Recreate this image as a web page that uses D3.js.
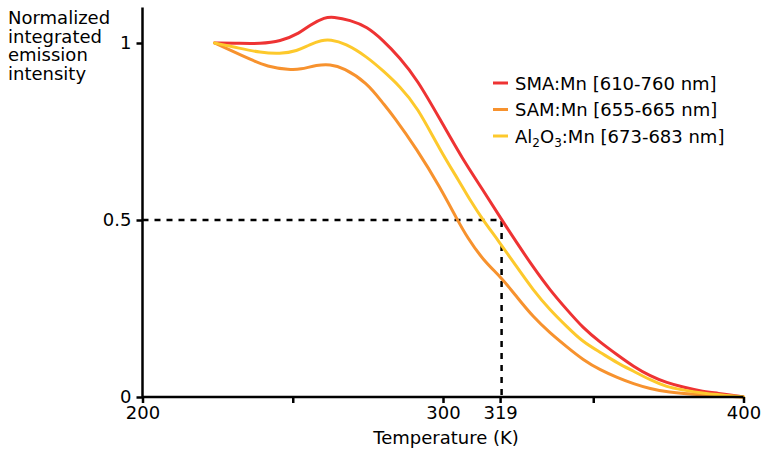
<!DOCTYPE html>
<html>
<head>
<meta charset="utf-8">
<script src="https://cdn.jsdelivr.net/npm/d3@7"></script>
<style>
  body { margin: 0; background: #fff; }
  svg { display: block; font-family: "DejaVu Sans", sans-serif; }
</style>
</head>
<body>
<div id="chart"></div>
<script>
// Temperatures (K) and normalized integrated intensity
const smaT = [224, 232.4, 239.1, 245.8, 252.4, 255.7, 260.8, 263.4, 269.1, 274.7, 280, 285.7, 291.3, 299, 306.7, 313.3, 319.6, 324.6, 330, 335.6, 341.3, 346.6, 352.4, 358, 363.4, 369, 374.5, 379.9, 385.5, 391.2, 400];
const smaV = [1.0, 0.999, 0.998, 1.004, 1.028, 1.051, 1.073, 1.074, 1.065, 1.046, 1.008, 0.958, 0.898, 0.785, 0.669, 0.585, 0.5, 0.435, 0.367, 0.302, 0.246, 0.195, 0.154, 0.119, 0.086, 0.059, 0.040, 0.028, 0.017, 0.011, 0.0];

const samT = [224, 229.1, 235.8, 241.4, 249.1, 252.4, 258.1, 262.4, 266.9, 274.7, 280, 283.4, 291.3, 299, 304.8, 308, 313.3, 319.6, 324.6, 330, 335.6, 341.3, 346.6, 352.4, 358, 363.4, 369, 374.5, 385.5, 400];
const samV = [1.0, 0.980, 0.954, 0.933, 0.924, 0.925, 0.938, 0.940, 0.930, 0.888, 0.83, 0.795, 0.70, 0.593, 0.5, 0.452, 0.387, 0.336, 0.282, 0.226, 0.181, 0.141, 0.105, 0.076, 0.055, 0.037, 0.023, 0.014, 0.006, 0.0];

const aloT = [224, 232.4, 239.1, 245.8, 251.4, 255.7, 259.7, 262.4, 267.5, 274.7, 280, 285.7, 291.3, 299, 305.7, 309, 313.3, 318.3, 324.6, 330, 335.6, 341.3, 346.6, 352.4, 358, 363.4, 369, 374.5, 379.9, 385.5, 400];
const aloV = [1.0, 0.985, 0.973, 0.969, 0.977, 0.996, 1.008, 1.010, 0.999, 0.961, 0.922, 0.877, 0.821, 0.698, 0.605, 0.556, 0.5, 0.443, 0.367, 0.302, 0.246, 0.198, 0.155, 0.126, 0.096, 0.073, 0.048, 0.028, 0.020, 0.011, 0.0];

const xTicks = [200, 250, 300, 319, 350, 400];
const xTickLabels = ['200', '', '300', '319', '', '400'];
const yTicks = [0, 0.5, 1];
const yTickLabels = ['0', '0.5', '1'];

const series = [
  { name: 'SMA:Mn [610-760 nm]', T: smaT, V: smaV, color: '#ee3333' },
  { name: 'SAM:Mn [655-665 nm]', T: samT, V: samV, color: '#f7922e' },
  { name: 'Al<tspan dy="4" font-size="12">2</tspan><tspan dy="-4">O</tspan><tspan dy="4" font-size="12">3</tspan><tspan dy="-4">:Mn [673-683 nm]</tspan>', T: aloT, V: aloV, color: '#fdc92c' },
];

const W = 764, H = 450;
const x = d3.scaleLinear().domain([200, 400]).range([142.5, 743.5]);
const y = d3.scaleLinear().domain([0, 1.1]).range([397, 7.6]);

const svg = d3.select('#chart').append('svg').attr('width', W).attr('height', H);

// Dashed guide at half intensity / 319 K
svg.append('path')
  .attr('d', `M${x(200)},${y(0.5)}H${x(319.5)}V${y(0)}`)
  .attr('fill', 'none')
  .attr('stroke', '#000')
  .attr('stroke-width', 2.5)
  .attr('stroke-dasharray', '6,6');

// Curves
const line = d3.line().x(d => x(d[0])).y(d => y(d[1])).curve(d3.curveBasis);
series.forEach(s => {
  svg.append('path')
    .datum(s.T.map((t, i) => [t, s.V[i]]))
    .attr('d', line)
    .attr('fill', 'none')
    .attr('stroke', s.color)
    .attr('stroke-width', 3)
    .attr('stroke-linejoin', 'round')
    .attr('stroke-linecap', 'round');
});

// Axes
const xAxis = svg.append('g').attr('transform', `translate(0,${y(0)})`)
  .call(d3.axisBottom(x).tickValues(xTicks).tickFormat((d, i) => xTickLabels[i]).tickSize(6).tickPadding(3));
const yAxis = svg.append('g').attr('transform', `translate(${x(200)},0)`)
  .call(d3.axisLeft(y).tickValues(yTicks).tickFormat((d, i) => yTickLabels[i]).tickSize(6).tickPadding(5));

[xAxis, yAxis].forEach(a => {
  a.select('.domain').attr('stroke-width', 2.5).attr('stroke', '#000');
  a.selectAll('.tick line').attr('stroke-width', 2.5).attr('stroke', '#000');
  a.selectAll('.tick text').attr('font-family', '"DejaVu Sans", sans-serif').attr('font-size', 18).attr('fill', '#000');
});
xAxis.select('.domain').attr('d', `M${x(200)},0H${x(400)}`);
yAxis.select('.domain').attr('d', `M0,${y(1.1)}V${y(0)}`);

// Axis titles
svg.append('text')
  .attr('x', 446).attr('y', 444)
  .attr('text-anchor', 'middle')
  .attr('font-size', 18)
  .text('Temperature (K)');

const yLabel = svg.append('text').attr('x', 8).attr('y', 24).attr('font-size', 18);
['Normalized', 'integrated', 'emission', 'intensity'].forEach((t, i) => {
  yLabel.append('tspan').attr('x', 8).attr('dy', i ? 18.5 : 0).text(t);
});

// Legend
const legend = svg.append('g').attr('transform', 'translate(493,83)');
series.forEach((s, i) => {
  const row = legend.append('g').attr('transform', `translate(0,${i * 26.5})`);
  row.append('line').attr('x1', 0).attr('x2', 15).attr('y1', 0).attr('y2', 0)
    .attr('stroke', s.color).attr('stroke-width', 3);
  row.append('text').attr('x', 22).attr('y', 6.5).attr('font-size', 18).html(s.name);
});
</script>
</body>
</html>
